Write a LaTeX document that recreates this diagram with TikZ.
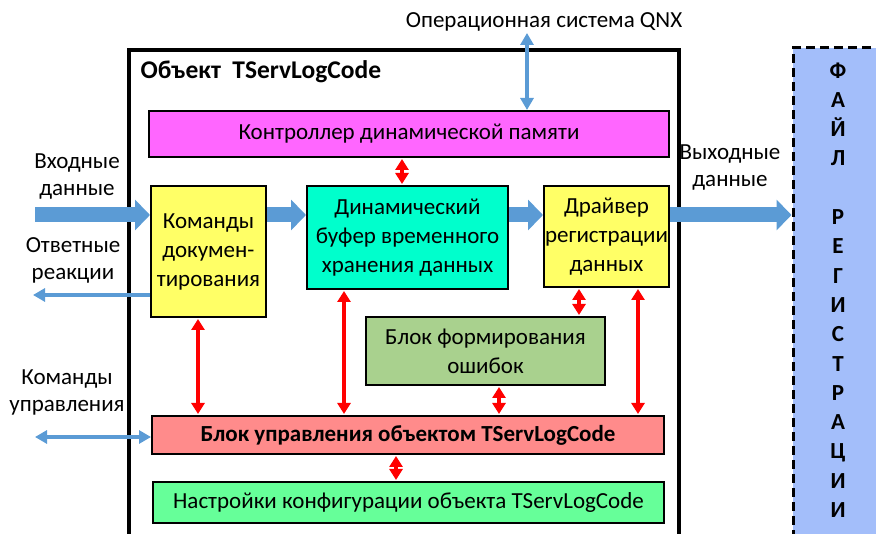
\documentclass[tikz,border=0pt]{standalone}
\usepackage{fontspec}
\setmainfont{Carlito}
\usetikzlibrary{arrows.meta}

\definecolor{blu}{HTML}{5B9BD5}
\definecolor{mag}{HTML}{FF66FF}
\definecolor{bir}{HTML}{00FFCC}
\definecolor{zhel}{HTML}{FFFF66}
\definecolor{oliv}{HTML}{A9D18E}
\definecolor{rozh}{HTML}{FF8B8B}
\definecolor{salat}{HTML}{66FF99}
\definecolor{fajl}{HTML}{A3BEFA}

\begin{document}
\begin{tikzpicture}[x=1pt,y=-1pt,
    blok/.style={draw, line width=2pt, align=center, inner sep=0pt,
        font=\fontsize{23}{29}\selectfont},
    lbl/.style={align=center, inner sep=0pt, font=\fontsize{23}{27}\selectfont},
    tolst/.style={line width=15pt, draw=blu, -{Triangle[length=15pt,width=30pt]}},
    tonk/.style={line width=3.5pt, draw=blu, fill=blu, >={Triangle[length=12pt,width=13pt]}},
    kras/.style={line width=3.5pt, draw=red, fill=red,
        {Triangle[length=11pt,width=13pt]}-{Triangle[length=11pt,width=13pt]}}]
    \clip (0,0) rectangle (876,534);

    % Объект
    \draw[line width=3.5pt] (129,50) rectangle (679,560);
    \node[anchor=west, font=\bfseries\fontsize{25.5}{29}\selectfont] (obj) at (137,72)
        {Объект\ \ TServLogCode};

    % Блоки
    \node[blok, fill=mag, minimum width=520pt, minimum height=46pt] (ctrl) at (409,134)
        {Контроллер динамической памяти};
    \node[blok, fill=zhel, minimum width=115pt, minimum height=131pt] (kom) at (208.5,251.5)
        {Команды\\докумен-\\тирования};
    \node[blok, fill=bir, minimum width=201pt, minimum height=103pt] (buf) at (407.5,237.5)
        {Динамический\\буфер временного\\хранения данных};
    \node[blok, fill=zhel, minimum width=125pt, minimum height=101pt] (drv) at (606.5,236.5)
        {Драйвер\\регистрации\\данных};
    \node[blok, fill=oliv, minimum width=239pt, minimum height=68pt] (err) at (485.5,351)
        {Блок формирования\\ошибок};
    \node[blok, fill=rozh, minimum width=512pt, minimum height=38pt, font=\bfseries\fontsize{23}{29}\selectfont]
        (upr) at (408,435) {Блок управления объектом TServLogCode};
    \node[blok, fill=salat, minimum width=511pt, minimum height=41pt] (cfg) at (408.5,502.5)
        {Настройки конфигурации объекта TServLogCode};

    % Файл регистрации
    \node[draw, fill=fajl, line width=3pt, dash pattern=on 9pt off 5pt,
        minimum width=107pt, minimum height=522pt, inner sep=0pt] (file) at (846.5,309) {};
    \node[align=center, inner sep=0pt, font=\bfseries\fontsize{23}{29.3}\selectfont] (fl) at (838,290)
        {Ф\\А\\Й\\Л\\[29.3pt]Р\\Е\\Г\\И\\С\\Т\\Р\\А\\Ц\\И\\И};

    % Подписи
    \node[lbl] (os) at (544,22) {Операционная система QNX};
    \node[lbl] (vhod) at (77,177) {Входные\\данные};
    \node[lbl] (otv) at (73,260) {Ответные\\реакции};
    \node[lbl] (kmd) at (67,392) {Команды\\управления};
    \node[lbl] (vyh) at (730,168) {Выходные\\данные};

    \coordinate (vx) at (35,215);
    \coordinate (ot) at (33,295);
    \coordinate (ku) at (35,437);

    % Потоки данных
    \draw[tolst] (vx) -- (kom.west |- vx);
    \draw[tolst] (kom.east |- vx) -- (buf.west |- vx);
    \draw[tolst] (buf.east |- vx) -- (drv.west |- vx);
    \draw[tolst] (drv.east |- vx) -- (file.west |- vx);

    \draw[tonk, ->] (kom.west |- ot) -- (ot);
    \draw[tonk, <->] (upr.west |- ku) -- (ku);
    \draw[tonk, <->] (ctrl.north -| 527,0) -- (527,33);

    % Связи
    \foreach \a/\b/\x in {ctrl/buf/402, kom/upr/198, buf/upr/344, drv/err/579,
        err/upr/499, drv/upr/638, upr/cfg/396} {
        \draw[kras, shorten <=1pt, shorten >=1pt] (\a.south -| \x,0) -- (\b.north -| \x,0);
    }
\end{tikzpicture}
\end{document}
